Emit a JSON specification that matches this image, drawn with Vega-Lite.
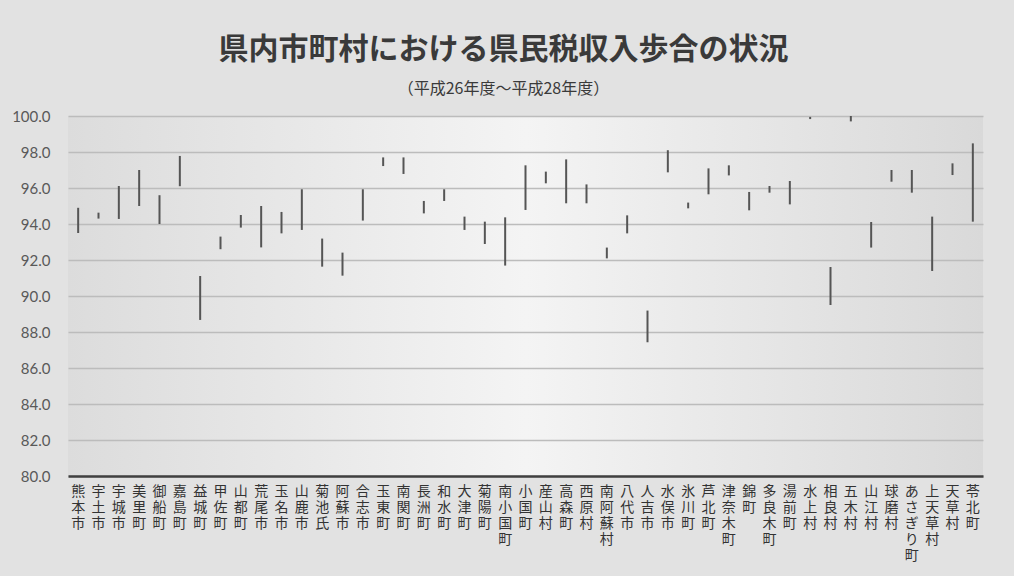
{
  "$schema": "https://vega.github.io/schema/vega-lite/v6.json",
  "width": 915,
  "height": 360,
  "autosize": {"type": "none"},
  "padding": {"left": 68, "top": 116, "right": 31, "bottom": 100},
  "background": "#e2e2e2",
  "title": {
    "text": "県内市町村における県民税収入歩合の状況",
    "subtitle": "（平成26年度～平成28年度）",
    "anchor": "middle",
    "dx": -22,
    "font": "Noto Sans CJK JP",
    "fontSize": 30,
    "fontWeight": "bold",
    "color": "#3a3a3a",
    "subtitleFont": "Noto Sans CJK JP",
    "subtitleFontSize": 16,
    "subtitleColor": "#3a3a3a",
    "subtitlePadding": 16,
    "offset": 12
  },
  "config": {
    "view": {
      "stroke": null,
      "fill": {
        "gradient": "linear",
        "x1": 0, "y1": 0, "x2": 1, "y2": 0,
        "stops": [
          {"offset": 0, "color": "#dcdcdc"},
          {"offset": 0.5, "color": "#f4f4f4"},
          {"offset": 1, "color": "#d9d9d9"}
        ]
      }
    }
  },
  "data": {
    "values": [
      {"name": "熊本市", "low": 93.5, "high": 94.9},
      {"name": "宇土市", "low": 94.3, "high": 94.63},
      {"name": "宇城市", "low": 94.28, "high": 96.11},
      {"name": "美里町", "low": 95.0, "high": 97.0},
      {"name": "御船町", "low": 94.0, "high": 95.6},
      {"name": "嘉島町", "low": 96.1, "high": 97.78},
      {"name": "益城町", "low": 88.67, "high": 91.11},
      {"name": "甲佐町", "low": 92.6, "high": 93.3},
      {"name": "山都町", "low": 93.8, "high": 94.5},
      {"name": "荒尾市", "low": 92.7, "high": 95.0},
      {"name": "玉名市", "low": 93.48, "high": 94.67},
      {"name": "山鹿市", "low": 93.67, "high": 95.93},
      {"name": "菊池氏", "low": 91.63, "high": 93.19},
      {"name": "阿蘇市", "low": 91.13, "high": 92.41},
      {"name": "合志市", "low": 94.19, "high": 95.93},
      {"name": "玉東町", "low": 97.22, "high": 97.7},
      {"name": "南関町", "low": 96.78, "high": 97.7},
      {"name": "長洲町", "low": 94.59, "high": 95.28},
      {"name": "和水町", "low": 95.28, "high": 95.93},
      {"name": "大津町", "low": 93.67, "high": 94.41},
      {"name": "菊陽町", "low": 92.89, "high": 94.13},
      {"name": "南小国町", "low": 91.69, "high": 94.37},
      {"name": "小国町", "low": 94.78, "high": 97.26},
      {"name": "産山村", "low": 96.26, "high": 96.91},
      {"name": "高森町", "low": 95.15, "high": 97.59},
      {"name": "西原村", "low": 95.15, "high": 96.2},
      {"name": "南阿蘇村", "low": 92.09, "high": 92.69},
      {"name": "八代市", "low": 93.48, "high": 94.48},
      {"name": "人吉市", "low": 87.43, "high": 89.19},
      {"name": "水俣市", "low": 96.87, "high": 98.1},
      {"name": "氷川町", "low": 94.87, "high": 95.19},
      {"name": "芦北町", "low": 95.65, "high": 97.09},
      {"name": "津奈木町", "low": 96.7, "high": 97.26},
      {"name": "錦町", "low": 94.76, "high": 95.78},
      {"name": "多良木町", "low": 95.74, "high": 96.11},
      {"name": "湯前町", "low": 95.09, "high": 96.39},
      {"name": "水上村", "low": 99.83, "high": 99.95},
      {"name": "相良村", "low": 89.5, "high": 91.61},
      {"name": "五木村", "low": 99.7, "high": 100.0},
      {"name": "山江村", "low": 92.69, "high": 94.11},
      {"name": "球磨村", "low": 96.35, "high": 97.0},
      {"name": "あさぎり町", "low": 95.74, "high": 97.0},
      {"name": "上天草村", "low": 91.39, "high": 94.41},
      {"name": "天草村", "low": 96.72, "high": 97.37},
      {"name": "苓北町", "low": 94.13, "high": 98.48}
    ]
  },
  "mark": {"type": "rule", "color": "#555555", "strokeWidth": 2},
  "encoding": {
    "x": {
      "field": "name",
      "type": "nominal",
      "sort": null,
      "title": null,
      "scale": {"paddingInner": 0, "paddingOuter": 0},
      "axis": {
        "labelAngle": 0,
        "labelExpr": "split(datum.label, '')",
        "labelFont": "Noto Sans CJK JP",
        "labelFontSize": 14,
        "labelLineHeight": 16,
        "labelColor": "#333333",
        "labelBaseline": "top",
        "labelPadding": 8,
        "labelOverlap": false,
        "labelLimit": 0,
        "ticks": false,
        "domain": true,
        "domainColor": "#404040",
        "domainWidth": 2.5,
        "grid": false
      }
    },
    "y": {
      "field": "low",
      "type": "quantitative",
      "title": null,
      "scale": {"domain": [80, 100], "nice": false, "zero": false},
      "axis": {
        "values": [80, 82, 84, 86, 88, 90, 92, 94, 96, 98, 100],
        "format": ".1f",
        "labelFont": "Lato",
        "labelFontSize": 15,
        "labelColor": "#595959",
        "labelPadding": 18,
        "ticks": false,
        "domain": false,
        "grid": true,
        "gridColor": "#bcbcbc",
        "gridWidth": 1.5
      }
    },
    "y2": {"field": "high"}
  }
}
